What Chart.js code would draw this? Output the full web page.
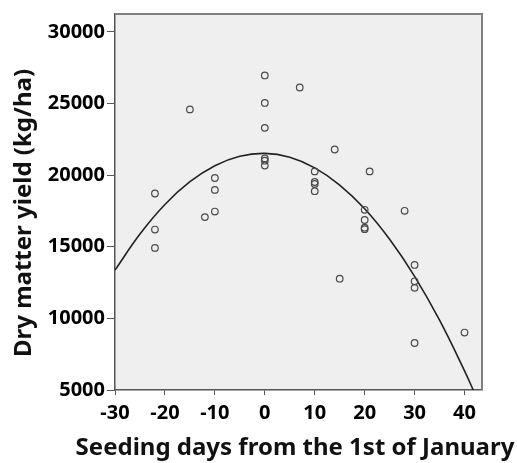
<!DOCTYPE html>
<html>
<head>
<meta charset="utf-8">
<script src="https://cdn.jsdelivr.net/npm/chart.js@4.4.1/dist/chart.umd.min.js"></script>
<style>
    body { margin: 0; background: #fff; }
    canvas { display: block; }
</style>
</head>
<body>
<canvas id="yieldChart" width="517" height="463"></canvas>
<script>
// Observed plots (days from 1 Jan, dry matter yield kg/ha)
const seedDays = [-22, -22, -22, -15, -12, -10, -10, -10, 0, 0, 0, 0, 0, 0, 7,
    10, 10, 10, 10, 14, 15, 20, 20, 20, 20, 21, 28, 30, 30, 30, 30, 40];
const yieldVals = [18720, 16200, 14920, 24590, 17070, 19800, 18970, 17460,
    26960, 25040, 23300, 21170, 21010, 20670, 26120,
    20260, 19520, 19390, 18880, 21790, 12770,
    17580, 16870, 16330, 16230, 20260, 17510,
    13730, 12590, 12130, 8280, 9010];

// Fitted quadratic curve
const fitDays = [-30, -25, -20, -15, -10, -5, 0, 5, 10, 15, 20, 25, 30, 35, 40, 42];
const fitYield = [13370, 15890, 17950, 19540, 20660, 21320, 21520, 21250,
    20510, 19310, 17650, 15520, 12930, 9870, 6340, 4800];

const xTicks = [-30, -20, -10, 0, 10, 20, 30, 40];
const yTicks = [5000, 10000, 15000, 20000, 25000, 30000];

const tickFont = { family: 'Noto Sans', size: 20, weight: 'bold' };

// Gray plot background with a frame, plus the two axis titles
const framePlugin = {
    id: 'frame',
    beforeDraw(chart) {
        const { ctx, chartArea: a } = chart;
        ctx.save();
        ctx.fillStyle = '#efefef';
        ctx.fillRect(a.left, a.top, a.right - a.left, a.bottom - a.top);
        ctx.restore();
    },
    afterDraw(chart) {
        const { ctx, chartArea: a } = chart;
        ctx.save();
        ctx.strokeStyle = '#808080';
        ctx.lineWidth = 2;
        ctx.beginPath();
        ctx.moveTo(a.left, a.top);
        ctx.lineTo(a.right, a.top);
        ctx.lineTo(a.right, a.bottom);
        ctx.stroke();

        ctx.fillStyle = '#111';
        ctx.font = 'bold 24px "Noto Sans"';
        ctx.textAlign = 'center';
        ctx.textBaseline = 'alphabetic';
        ctx.fillText('Seeding days from the 1st of January', 295, 455);

        ctx.translate(31, 213);
        ctx.rotate(-Math.PI / 2);
        ctx.fillText('Dry matter yield (kg/ha)', 0, 0);
        ctx.restore();
    }
};

new Chart(document.getElementById('yieldChart'), {
    type: 'scatter',
    data: {
        datasets: [{
            label: 'observed',
            data: seedDays.map((d, i) => ({ x: d, y: yieldVals[i] })),
            pointRadius: 3.3,
            pointBorderWidth: 1.2,
            pointBorderColor: '#4a4a4a',
            pointBackgroundColor: 'rgba(0,0,0,0)'
        }, {
            label: 'fit',
            data: fitDays.map((d, i) => ({ x: d, y: fitYield[i] })),
            showLine: true,
            pointRadius: 0,
            borderColor: '#222',
            borderWidth: 1.6,
            tension: 0.4,
            clip: 0
        }]
    },
    options: {
        responsive: false,
        devicePixelRatio: 1,
        animation: false,
        layout: { padding: { top: 8, right: 35, left: 0, bottom: 0 } },
        plugins: {
            legend: { display: false },
            tooltip: { enabled: false }
        },
        scales: {
            x: {
                type: 'linear',
                min: -30,
                max: 43.5,
                afterBuildTicks: scale => { scale.ticks = xTicks.map(v => ({ value: v })); },
                afterFit: scale => { scale.height = 73; },
                grid: { drawOnChartArea: false, tickLength: 5, color: '#555' },
                border: { color: '#555', width: 1.5 },
                ticks: { font: tickFont, color: '#000', padding: 6, maxRotation: 0,
                    callback: v => String(v) }
            },
            y: {
                type: 'linear',
                min: 5000,
                max: 31250,
                afterBuildTicks: scale => { scale.ticks = yTicks.map(v => ({ value: v })); },
                afterFit: scale => { scale.width = 115; },
                grid: { drawOnChartArea: false, tickLength: 8, color: '#555' },
                border: { color: '#555', width: 1.5 },
                ticks: { font: tickFont, color: '#000', padding: 2,
                    callback: v => String(v) }
            }
        }
    },
    plugins: [framePlugin]
});
</script>
</body>
</html>
